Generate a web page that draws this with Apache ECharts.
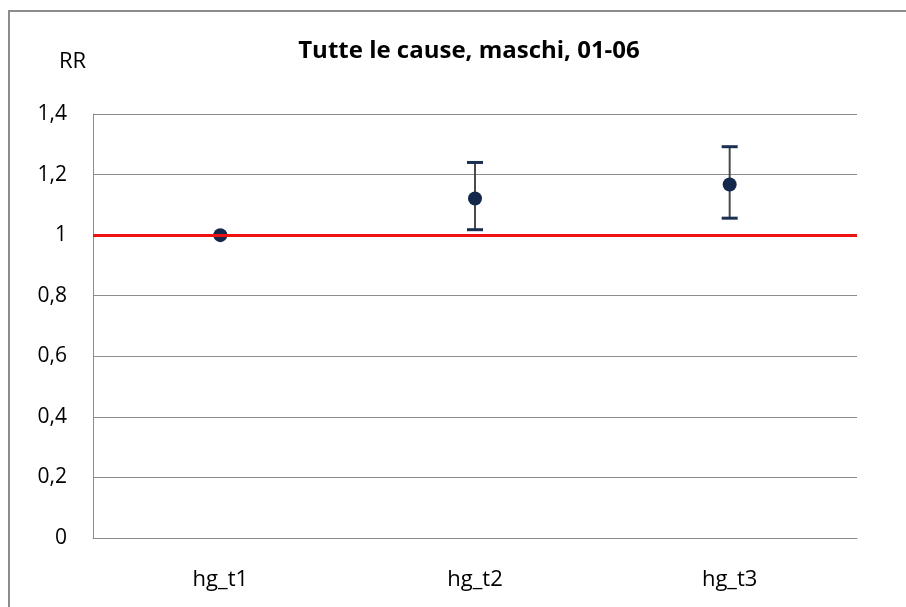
<!DOCTYPE html>
<html><head><meta charset="utf-8">
<script src="https://cdn.jsdelivr.net/npm/echarts@6/dist/echarts.min.js"></script>
<style>html,body{margin:0;padding:0;background:#fff}#c{width:906px;height:607px}</style>
</head><body><div id="c"></div>
<script>
const categories = ['hg_t1', 'hg_t2', 'hg_t3'];
const rr = [1.0, 1.121, 1.167];
const lower = [null, 1.018, 1.056];
const upper = [null, 1.240, 1.292];
const yTicks = [0, 0.2, 0.4, 0.6, 0.8, 1, 1.2, 1.4];
const refValue = 1;

const font = '"Open Sans", "Liberation Sans", sans-serif';
const chart = echarts.init(document.getElementById('c'));
const errData = categories.map((c, i) => [i, lower[i], upper[i]]).filter(d => d[1] != null);

chart.setOption({
  animation: false,
  title: {
    text: 'Tutte le cause, maschi, 01-06',
    left: 464, top: 34, textAlign: 'center',
    textStyle: { fontFamily: font, fontSize: 24, fontWeight: 'bold', color: '#000' }
  },
  graphic: [
    { type: 'rect', shape: { x: 9, y: 11, width: 1000, height: 1000 },
      style: { fill: 'none', stroke: '#8c8c8c', lineWidth: 2 }, silent: true },
    { type: 'text', left: 59, top: 51,
      style: { text: 'RR', font: '22px ' + font, fill: '#000' } }
  ],
  grid: { left: 93, right: 49, top: 114, bottom: 69, containLabel: false },
  xAxis: {
    type: 'category', data: categories, boundaryGap: true,
    axisLine: { lineStyle: { color: '#8c8c8c', width: 1 } },
    axisTick: { show: false },
    axisLabel: { color: '#000', fontFamily: font, fontSize: 22, margin: 31 }
  },
  yAxis: {
    type: 'value', min: 0, max: 1.4, interval: 0.2,
    axisLine: { show: true, lineStyle: { color: '#8c8c8c', width: 1 } },
    axisTick: { show: false },
    splitLine: { lineStyle: { color: '#8c8c8c', width: 1 } },
    axisLabel: {
      color: '#000', fontFamily: font, fontSize: 21, margin: 26,
      formatter: v => {
        const t = yTicks.find(x => Math.abs(x - v) < 1e-9);
        return (t === undefined ? v : t).toString().replace('.', ',');
      }
    }
  },
  series: [
    {
      type: 'custom', z: 3,
      data: errData,
      renderItem: (params, api) => {
        const x = api.value(0);
        const lo = api.coord([x, api.value(1)]);
        const hi = api.coord([x, api.value(2)]);
        const hw = 8;
        return {
          type: 'group',
          children: [
            { type: 'line', shape: { x1: lo[0], y1: lo[1], x2: hi[0], y2: hi[1] },
              style: { stroke: '#4a4a4a', lineWidth: 2 } },
            { type: 'line', shape: { x1: lo[0] - hw, y1: lo[1], x2: lo[0] + hw, y2: lo[1] },
              style: { stroke: '#1b2f52', lineWidth: 3 } },
            { type: 'line', shape: { x1: hi[0] - hw, y1: hi[1], x2: hi[0] + hw, y2: hi[1] },
              style: { stroke: '#1b2f52', lineWidth: 3 } }
          ]
        };
      }
    },
    {
      type: 'scatter', z: 4,
      data: rr,
      symbol: 'circle', symbolSize: 14,
      itemStyle: { color: '#13284a', opacity: 1 }
    },
    {
      type: 'line', z: 5, data: [], silent: true,
      markLine: {
        silent: true, symbol: 'none', label: { show: false },
        lineStyle: { color: '#ee1111', width: 3, type: 'solid', opacity: 1 },
        data: [{ yAxis: refValue }]
      }
    }
  ]
});
</script></body></html>
